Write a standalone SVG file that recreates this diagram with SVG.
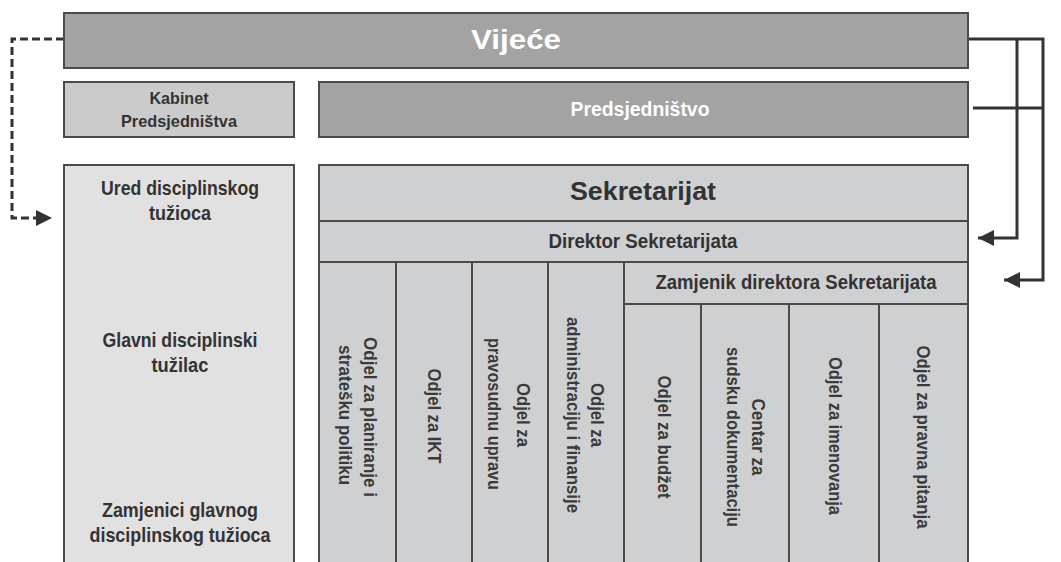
<svg xmlns="http://www.w3.org/2000/svg" width="1061" height="562" viewBox="0 0 1061 562">
<defs>
<style>
.box{stroke:#4a4a4a;stroke-width:2}
.dark{fill:#a3a3a3}
.mid{fill:#cbcbcc}
.light{fill:#e1e1e2}
.sek{fill:#cfd0d1}
.t{font-family:"Liberation Sans",Arial,sans-serif;font-weight:bold;fill:#333;text-anchor:middle}
.w{fill:#fff}
.v{font-family:"Liberation Sans",Arial,sans-serif;font-weight:bold;fill:#3a3a3a;text-anchor:middle;dominant-baseline:central;font-size:17.5px}
.con{fill:none;stroke:#333;stroke-width:3}
.dash{fill:none;stroke:#333;stroke-width:3;stroke-dasharray:8 4}
</style>
<marker id="ah" markerUnits="userSpaceOnUse" markerWidth="18" markerHeight="18" refX="16" refY="9" orient="auto">
<path d="M0,1 L16,9 L0,17 Z" fill="#333"/>
</marker>
</defs>
<rect width="1061" height="562" fill="#fff"/>

<g id="connectors">
<path class="dash" d="M64,39 H12 V218 H36"/>
<path d="M36,210 L52,218 L36,226 Z" fill="#333"/>
<path class="con" d="M968,39 H1043 V280 H1004" marker-end="url(#ah)"/>
<path class="con" d="M1017,39 V238 H978" marker-end="url(#ah)"/>
<path class="con" d="M973,108 H1043"/>
</g>

<g id="vijece">
<rect class="box dark" x="64" y="13" width="904" height="55"/>
<text class="t w" x="516" y="49" font-size="28" textLength="90" lengthAdjust="spacingAndGlyphs">Vijeće</text>
</g>

<g id="kabinet">
<rect class="box mid" x="64" y="82" width="230" height="55"/>
<text class="t" x="179" y="104" font-size="17" textLength="59" lengthAdjust="spacingAndGlyphs">Kabinet</text>
<text class="t" x="179" y="127" font-size="17" textLength="116" lengthAdjust="spacingAndGlyphs">Predsjedništva</text>
</g>

<g id="predsjednistvo">
<rect class="box dark" x="319" y="82" width="649" height="55"/>
<text class="t w" x="640" y="116" font-size="20" textLength="139" lengthAdjust="spacingAndGlyphs">Predsjedništvo</text>
</g>

<g id="ured">
<rect class="box light" x="64" y="165" width="230" height="400"/>
<text class="t" x="180" y="195" font-size="21" textLength="158" lengthAdjust="spacingAndGlyphs">Ured disciplinskog</text>
<text class="t" x="180" y="220" font-size="21" textLength="62" lengthAdjust="spacingAndGlyphs">tužioca</text>
<text class="t" x="180" y="347" font-size="21" textLength="155" lengthAdjust="spacingAndGlyphs">Glavni disciplinski</text>
<text class="t" x="180" y="372" font-size="21" textLength="57" lengthAdjust="spacingAndGlyphs">tužilac</text>
<text class="t" x="180" y="517" font-size="21" textLength="156" lengthAdjust="spacingAndGlyphs">Zamjenici glavnog</text>
<text class="t" x="180" y="542" font-size="21" textLength="181" lengthAdjust="spacingAndGlyphs">disciplinskog tužioca</text>
</g>

<g id="sekretarijat">
<rect class="box sek" x="319" y="165" width="649" height="56"/>
<text class="t" x="643" y="200" font-size="25" textLength="146" lengthAdjust="spacingAndGlyphs">Sekretarijat</text>
</g>

<g id="direktor">
<rect class="box sek" x="319" y="221" width="649" height="41"/>
<text class="t" x="643" y="248" font-size="20" textLength="189" lengthAdjust="spacingAndGlyphs">Direktor Sekretarijata</text>
</g>

<g id="zamjenik">
<rect class="box sek" x="624" y="262" width="344" height="42"/>
<text class="t" x="796" y="289" font-size="20" textLength="281" lengthAdjust="spacingAndGlyphs">Zamjenik direktora Sekretarijata</text>
</g>

<g id="odjel-planiranje">
<rect class="box sek" x="319" y="262" width="77" height="303"/>
<text class="v" transform="translate(370,417) rotate(90)" textLength="160" lengthAdjust="spacingAndGlyphs">Odjel za planiranje i</text>
<text class="v" transform="translate(345,415) rotate(90)" textLength="140" lengthAdjust="spacingAndGlyphs">stratešku politiku</text>
</g>

<g id="odjel-ikt">
<rect class="box sek" x="396" y="262" width="76" height="303"/>
<text class="v" transform="translate(434,416) rotate(90)" textLength="95" lengthAdjust="spacingAndGlyphs">Odjel za IKT</text>
</g>

<g id="odjel-pravosudna">
<rect class="box sek" x="472" y="262" width="76" height="303"/>
<text class="v" transform="translate(523,415) rotate(90)" textLength="64" lengthAdjust="spacingAndGlyphs">Odjel za</text>
<text class="v" transform="translate(494,414) rotate(90)" textLength="152" lengthAdjust="spacingAndGlyphs">pravosudnu upravu</text>
</g>

<g id="odjel-administracija">
<rect class="box sek" x="548" y="262" width="76" height="303"/>
<text class="v" transform="translate(597,415) rotate(90)" textLength="64" lengthAdjust="spacingAndGlyphs">Odjel za</text>
<text class="v" transform="translate(573,415) rotate(90)" textLength="196" lengthAdjust="spacingAndGlyphs">administraciju i finansije</text>
</g>

<g id="odjel-budzet">
<rect class="box sek" x="624" y="304" width="77" height="261"/>
<text class="v" transform="translate(664,437) rotate(90)" textLength="123" lengthAdjust="spacingAndGlyphs">Odjel za budžet</text>
</g>

<g id="centar-dokumentacija">
<rect class="box sek" x="701" y="304" width="88" height="261"/>
<text class="v" transform="translate(758,437) rotate(90)" textLength="77" lengthAdjust="spacingAndGlyphs">Centar za</text>
<text class="v" transform="translate(733,437) rotate(90)" textLength="180" lengthAdjust="spacingAndGlyphs">sudsku dokumentaciju</text>
</g>

<g id="odjel-imenovanja">
<rect class="box sek" x="789" y="304" width="90" height="261"/>
<text class="v" transform="translate(835,436) rotate(90)" textLength="158" lengthAdjust="spacingAndGlyphs">Odjel za imenovanja</text>
</g>

<g id="odjel-pravna">
<rect class="box sek" x="879" y="304" width="89" height="261"/>
<text class="v" transform="translate(923,437) rotate(90)" textLength="183" lengthAdjust="spacingAndGlyphs">Odjel za pravna pitanja</text>
</g>
</svg>
